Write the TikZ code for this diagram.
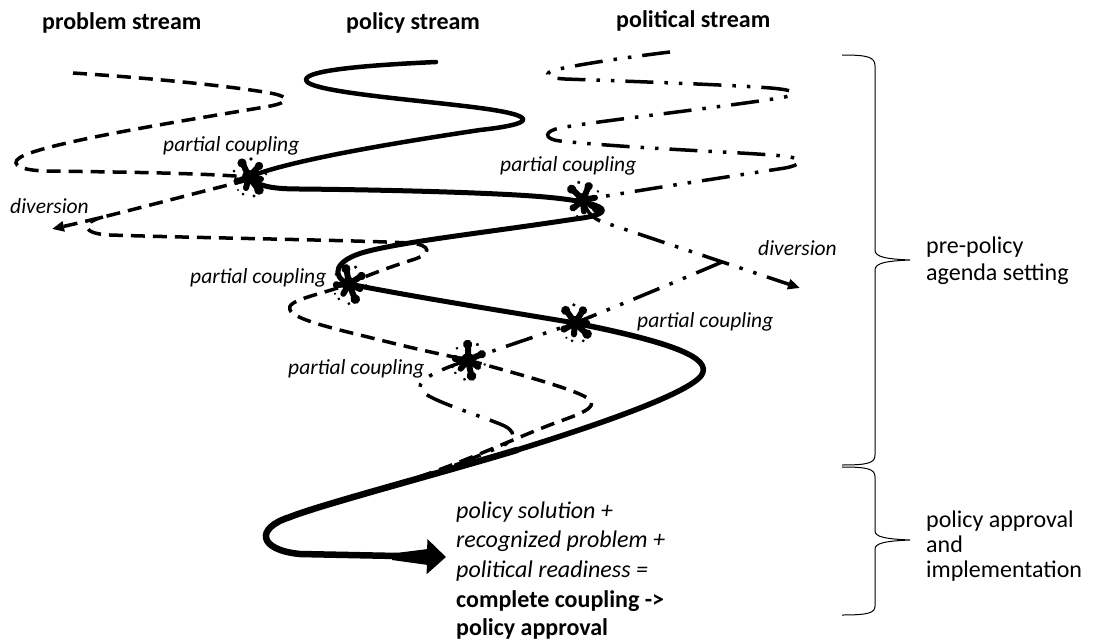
\documentclass[tikz,border=0pt]{standalone}
\usepackage{fontspec}
\setmainfont{Carlito}
\usetikzlibrary{arrows.meta}

\tikzset{
  splat/.pic={
    \fill (0,0) circle[radius=7pt];
    \foreach \dx/\dy in {-6/-13, 9/-10, 12/2, 9/12, -11/4, -3/11}
      \draw[line width=6pt, line cap=round] (0,0) -- (\dx,\dy);
    \fill (-7,-14) circle[radius=4.6pt] (10,-11) circle[radius=4.2pt]
          (10,13) circle[radius=4.8pt] (-12,4) circle[radius=3.6pt];
    \fill (2,-18) circle[radius=1.8pt] (-15,-6) circle[radius=1.5pt]
          (-6,17) circle[radius=1.5pt] (5,19) circle[radius=1.6pt]
          (17,-3) circle[radius=1.4pt] (-11,13) circle[radius=1.2pt];
  }
}

\begin{document}
\begin{tikzpicture}[x=1pt,y=-1pt,
  policyline/.style={line width=#1, line cap=round, line join=round},
  problemline/.style={line width=3.5pt, dash pattern=on 14pt off 8pt},
  politicsline/.style={line width=3.5pt,
    dash pattern=on 28pt off 11pt on 3.5pt off 11pt on 3.5pt off 11pt},
  divtip/.style={-{Triangle[length=12pt,width=10pt]}},
  head/.style={font=\fontsize{24}{28}\selectfont\bfseries, anchor=base west, inner sep=0pt},
  coupling/.style={font=\fontsize{21.5}{26}\selectfont\itshape, anchor=base west, inner sep=0pt},
  phase/.style={font=\fontsize{24}{26}\selectfont, anchor=base west, inner sep=0pt},
  result/.style={font=\fontsize{24}{29}\selectfont\itshape, anchor=base west, inner sep=0pt},
  resultbold/.style={font=\fontsize{24}{29}\selectfont\bfseries, anchor=base west, inner sep=0pt},
  brace/.style={line width=1pt},
]
\useasboundingbox (0,0) rectangle (1095,643);

% coupling points
\coordinate (c1) at (249,177);
\coordinate (c2) at (583,200);
\coordinate (c3) at (349,284);
\coordinate (c4) at (575,323);
\coordinate (c5) at (468,360);
\coordinate (pcusp) at (722,262);
\coordinate (hook) at (103,217);

% problem stream
\draw[problemline] (73,73) .. controls (150,78) and (230,86) .. (270,93)
  .. controls (292,97) and (290,103) .. (265,107)
  .. controls (200,118) and (60,140) .. (25,155)
  .. controls (8,162) and (15,170) .. (45,171)
  .. controls (120,172) and (200,173) .. (c1);
\draw[problemline, divtip] (248,180) .. controls (180,197) and (110,216) .. (52,229);
\draw[problemline] (hook) .. controls (80,223) and (82,234) .. (110,235)
  .. controls (200,238) and (350,240) .. (410,243)
  .. controls (432,245) and (432,254) .. (412,260)
  .. controls (390,267) and (365,276) .. (c3)
  .. controls (320,295) and (285,300) .. (290,310)
  .. controls (294,320) and (340,330) .. (380,340)
  .. controls (420,350) and (440,354) .. (c5)
  .. controls (510,372) and (580,390) .. (590,400)
  .. controls (597,408) and (580,414) .. (555,423)
  .. controls (520,436) and (470,460) .. (410,480);

% political stream
\draw[politicsline] (670,52) .. controls (620,58) and (570,66) .. (555,70)
  .. controls (543,73) and (546,78) .. (565,79)
  .. controls (650,82) and (760,86) .. (780,89)
  .. controls (797,91) and (797,95) .. (780,98)
  .. controls (700,110) and (590,122) .. (560,128)
  .. controls (544,131) and (543,139) .. (560,141)
  .. controls (650,150) and (770,153) .. (790,157)
  .. controls (805,160) and (801,165) .. (785,168)
  .. controls (720,178) and (640,190) .. (c2);
\draw[politicsline, divtip] (c2) .. controls (586,210) and (590,216) .. (600,221) -- (800,288);
\draw[politicsline] (pcusp) .. controls (680,280) and (620,305) .. (c4)
  .. controls (540,335) and (500,348) .. (c5)
  .. controls (445,368) and (418,378) .. (420,388)
  .. controls (422,398) and (470,412) .. (500,424)
  .. controls (518,431) and (516,440) .. (500,447)
  .. controls (480,455) and (450,468) .. (420,478);

% policy stream, growing heavier downstream
\draw[policyline=4.5pt] (436,62) .. controls (370,65) and (305,70) .. (306,80)
  .. controls (307,92) and (420,100) .. (480,108)
  .. controls (540,116) and (535,124) .. (480,130)
  .. controls (400,142) and (290,160) .. (c1);
\draw[policyline=5pt] (c1) .. controls (258,187) and (275,189) .. (300,189)
  .. controls (400,190) and (500,193) .. (545,197)
  .. controls (612,203) and (618,214) .. (575,219)
  .. controls (490,232) and (400,242) .. (365,252)
  .. controls (335,260) and (330,276) .. (c3)
  .. controls (420,298) and (510,312) .. (c4);
\draw[policyline=5.5pt] (c4) .. controls (660,340) and (708,355) .. (703,372)
  .. controls (700,388) and (620,418) .. (517,450);
\draw[policyline=6.5pt, -{Triangle[length=19pt,width=34pt]}] (517,450)
  .. controls (430,476) and (320,505) .. (290,517)
  .. controls (255,528) and (258,550) .. (300,554) -- (446,557);
\fill (392,553.5) -- (428,549) -- (428,565) -- (392,560) -- cycle;

% ink splats where streams couple
\pic at (c1) {splat};
\pic[rotate=20] at (c2) {splat};
\pic[rotate=-15] at (c3) {splat};
\pic[rotate=10] at (c4) {splat};
\pic[rotate=-25] at (c5) {splat};

% phase braces
\draw[brace] (842,55) .. controls (868,55) and (875,57) .. (875,66) -- (875,250)
  .. controls (875,257) and (886,259) .. (910,260)
  .. controls (886,261) and (875,263) .. (875,270) -- (875,455)
  .. controls (875,463) and (868,465) .. (842,465);
\draw[brace] (842,467) .. controls (868,467) and (875,469) .. (875,477) -- (875,531)
  .. controls (875,537) and (886,539) .. (910,540)
  .. controls (886,541) and (875,543) .. (875,549) -- (875,606)
  .. controls (875,613) and (868,615) .. (842,615);

% headings
\node[head] (h1) at (42,29.5) {problem stream};
\node[head] (h2) at (346,29.5) {policy stream};
\node[head] (h3) at (616,27.5) {political stream};

% coupling labels
\node[coupling] (pc1) at (163,151) {partial coupling};
\node[coupling] (pc2) at (500,171) {partial coupling};
\node[coupling] (pc3) at (190,283) {partial coupling};
\node[coupling] (pc4) at (637,327) {partial coupling};
\node[coupling] (pc5) at (288,374) {partial coupling};
\node[coupling] (dv1) at (10,213) {diversion};
\node[coupling] (dv2) at (758,255) {diversion};

% phase labels
\node[phase] (s1) at (926,253) {pre-policy};
\node[phase] (s2) at (926,280) {agenda setting};
\node[phase] (s3) at (926,527) {policy approval};
\node[phase] (s4) at (926,552) {and};
\node[phase] (s5) at (926,577) {implementation};

% outcome text
\node[result] (r1) at (456,518) {policy solution +};
\node[result] (r2) at (456,547) {recognized problem +};
\node[result] (r3) at (456,577) {political readiness =};
\node[resultbold] (r4) at (456,607) {complete coupling ->};
\node[resultbold] (r5) at (456,635) {policy approval};
\end{tikzpicture}
\end{document}
